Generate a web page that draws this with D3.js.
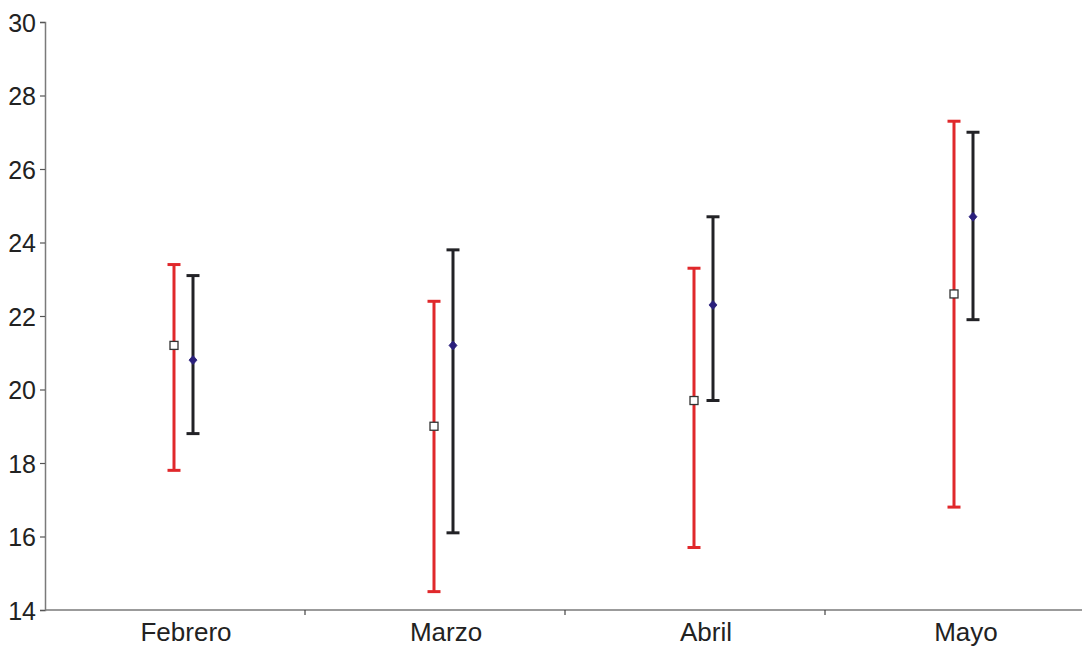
<!DOCTYPE html>
<html>
<head>
<meta charset="utf-8">
<script src="https://cdn.jsdelivr.net/npm/d3@7"></script>
<style>
  html, body { margin: 0; padding: 0; background: #fff; }
  svg { display: block; font-family: "Liberation Sans", Arial, sans-serif; }
</style>
</head>
<body>
<svg id="chart" width="1082" height="648"></svg>
<script>
// Months on the category axis
const categories = ["Febrero", "Marzo", "Abril", "Mayo"];

// Series A (red bars, open square marker): mean, lower and upper limits
const meanA = [21.2, 19.0, 19.7, 22.6];
const lowA  = [17.8, 14.5, 15.7, 16.8];
const highA = [23.4, 22.4, 23.3, 27.3];

// Series B (black bars, filled diamond marker): mean, lower and upper limits
const meanB = [20.8, 21.2, 22.3, 24.7];
const lowB  = [18.8, 16.1, 19.7, 21.9];
const highB = [23.1, 23.8, 24.7, 27.0];

// Value axis ticks
const yTicks = [14, 16, 18, 20, 22, 24, 26, 28, 30];

const svg = d3.select("#chart");

const plotLeft = 45, plotRight = 1085, plotTop = 22, plotBottom = 610;

const x = d3.scaleBand().domain(categories).range([plotLeft, plotRight]).padding(0);
const y = d3.scaleLinear().domain([14, 30]).range([plotBottom, plotTop]);

// Value axis
const yAxis = svg.append("g")
  .attr("transform", `translate(${plotLeft},0)`)
  .call(d3.axisLeft(y).tickValues(yTicks).tickSize(5).tickPadding(4).tickFormat(d3.format("d")));
yAxis.select(".domain").attr("stroke", "#7a7a7a").attr("stroke-width", 1.5);
yAxis.selectAll(".tick line").attr("stroke", "#555").attr("stroke-width", 1.2);
yAxis.selectAll(".tick text")
  .attr("fill", "#222")
  .style("font-size", "25px")
  .attr("dy", "0.36em");

// Category axis: line with ticks at the category boundaries
const xAxisG = svg.append("g");
xAxisG.append("line")
  .attr("x1", plotLeft).attr("x2", 1082)
  .attr("y1", plotBottom).attr("y2", plotBottom)
  .attr("stroke", "#7a7a7a").attr("stroke-width", 1.5);
const boundaries = categories.slice(1).map(c => x(c));
xAxisG.selectAll("line.tick")
  .data(boundaries)
  .join("line")
  .attr("class", "tick")
  .attr("x1", d => d).attr("x2", d => d)
  .attr("y1", plotBottom).attr("y2", plotBottom + 5)
  .attr("stroke", "#444").attr("stroke-width", 1.2);
xAxisG.selectAll("text")
  .data(categories)
  .join("text")
  .attr("x", d => x(d) + x.bandwidth() / 2 + 11)
  .attr("y", 641)
  .attr("text-anchor", "middle")
  .attr("fill", "#222")
  .style("font-size", "26px")
  .text(d => d);

// Error bars with markers
const capHalf = 6.5;
function drawSeries(means, lows, highs, dx, color, markerFn) {
  const g = svg.append("g");
  const rows = categories.map((c, i) => ({ c, m: means[i], lo: lows[i], hi: highs[i] }));
  const cx = d => x(d.c) + x.bandwidth() / 2 + dx;

  g.selectAll("line.stem").data(rows).join("line")
    .attr("class", "stem")
    .attr("x1", cx).attr("x2", cx)
    .attr("y1", d => y(d.lo)).attr("y2", d => y(d.hi))
    .attr("stroke", color).attr("stroke-width", 3);

  ["lo", "hi"].forEach(k => {
    g.selectAll("line.cap-" + k).data(rows).join("line")
      .attr("class", "cap-" + k)
      .attr("x1", d => cx(d) - capHalf).attr("x2", d => cx(d) + capHalf)
      .attr("y1", d => y(d[k])).attr("y2", d => y(d[k]))
      .attr("stroke", color).attr("stroke-width", 3);
  });

  markerFn(g, rows, cx);
}

drawSeries(meanA, lowA, highA, -1, "#e0282b", (g, rows, cx) => {
  g.selectAll("rect").data(rows).join("rect")
    .attr("x", d => cx(d) - 4).attr("y", d => y(d.m) - 4)
    .attr("width", 8).attr("height", 8)
    .attr("fill", "#fff").attr("stroke", "#333").attr("stroke-width", 1.3);
});

drawSeries(meanB, lowB, highB, 18, "#222226", (g, rows, cx) => {
  g.selectAll("path.diamond").data(rows).join("path")
    .attr("class", "diamond")
    .attr("transform", d => `translate(${cx(d)},${y(d.m)})`)
    .attr("d", "M0,-4.5L4,0L0,4.5L-4,0Z")
    .attr("fill", "#2a1f7c").attr("stroke", "#2a1f7c").attr("stroke-width", 0.8);
});
</script>
</body>
</html>
